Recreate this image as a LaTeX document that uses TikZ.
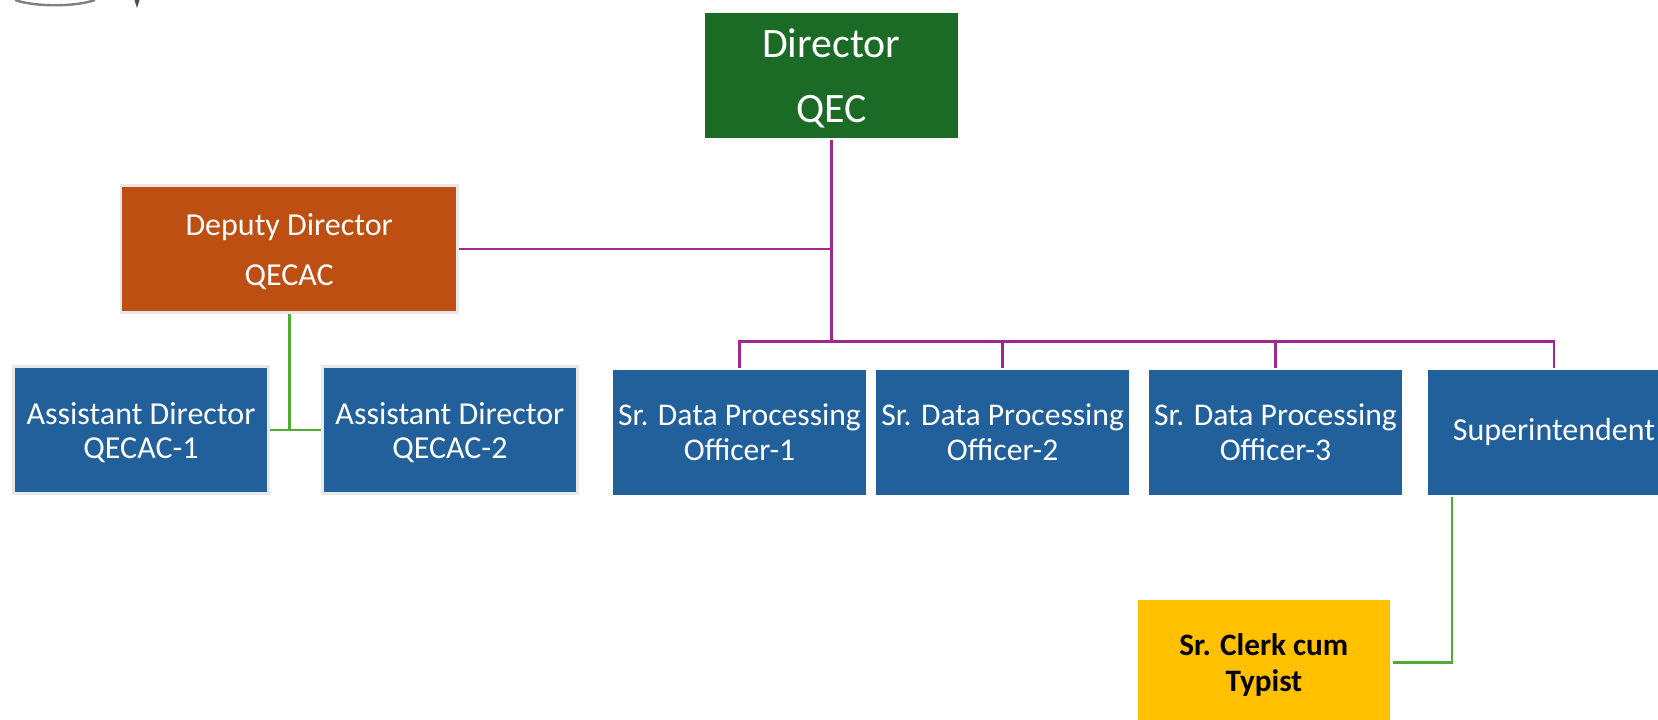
\documentclass[tikz,border=0pt]{standalone}
\usepackage{fontspec}
\setmainfont{Carlito}

\definecolor{dirgreen}{HTML}{1B6B26}
\definecolor{depred}{HTML}{BE4F13}
\definecolor{staffblue}{HTML}{22609B}
\definecolor{clerkyellow}{HTML}{FFC000}
\definecolor{linepurple}{HTML}{9C2A92}
\definecolor{linegreen}{HTML}{50AB32}
\definecolor{boxedge}{HTML}{E6E8EA}

\newcommand{\lowrule}[1]{\rule{0pt}{#1}}

\tikzset{
  orgbox/.style={draw=white, line width=1.9pt, inner sep=0pt, align=center, text=white,
    minimum width=191.3pt, minimum height=95.3pt,
    font=\fontsize{23.7}{25.7}\selectfont},
  edgebox/.style={orgbox, draw=boxedge, font=\fontsize{24}{25.7}\selectfont},
  reportline/.style={linepurple, line width=2.2pt},
  staffline/.style={linegreen, line width=2.2pt},
  logoedge/.style={black!50, line width=1.8pt}
}

\begin{document}
\begin{tikzpicture}[x=0.75pt, y=-0.75pt]
\useasboundingbox (0,0) rectangle (1658,719);
\clip (0,0) rectangle (1658,719);

% cut off logo at the top
\draw[logoedge] (15,0) .. controls (35,7) and (75,7) .. (95,0);
\fill[black!70] (134.5,0) -- (139.5,0) -- (137,8) -- cycle;

\node[orgbox, fill=dirgreen, font=\fontsize{31.4}{48.75}\selectfont] (director) at (831.3,75.5) {\lowrule{25.3pt}Director\\QEC};
\node[edgebox, fill=depred, minimum width=252.2pt, font=\fontsize{24}{37.5}\selectfont] (deputy) at (289.2,249) {\lowrule{20.5pt}Deputy Director\\QECAC};

\node[edgebox, fill=staffblue] (asst1) at (141,430) {\lowrule{20.5pt}Assistant Director\\QECAC-1};
\node[edgebox, fill=staffblue] (asst2) at (449.9,430) {\lowrule{20.5pt}Assistant Director\\QECAC-2};

\node[orgbox, fill=staffblue] (sro1) at (739.5,432.3) {Sr. Data Processing\\Officer-1};
\node[orgbox, fill=staffblue] (sro2) at (1002.6,432.3) {Sr. Data Processing\\Officer-2};
\node[orgbox, fill=staffblue] (sro3) at (1275.4,432.3) {Sr. Data Processing\\Officer-3};
\node[orgbox, fill=staffblue, font=\fontsize{24}{25.7}\selectfont] (super) at (1554,432.3) {Superintendent};

\node[orgbox, fill=clerkyellow, text=black, font=\fontsize{23.4}{27}\selectfont\bfseries] (clerk) at (1263.9,662.7) {\lowrule{20pt}Sr. Clerk cum\\Typist};

\coordinate (hub) at (831.3,249);
\coordinate (bus) at (831.3,341.7);
\coordinate (join) at (289.2,430);
\coordinate (bend) at (1452,662.7);

\draw[reportline] (director.south) -- (bus);
\draw[reportline] (deputy.east) -- (hub);
\draw[reportline, line join=miter] (sro1.north) |- (bus);
\draw[reportline, line join=miter] (super.north) |- (bus);
\draw[reportline] (sro2.north) -- (sro2.north |- bus);
\draw[reportline] (sro3.north) -- (sro3.north |- bus);

\draw[staffline] (deputy.south) -- (join);
\draw[staffline] (asst1.east) -- (asst2.west);
\draw[staffline, line join=miter] (super.south -| bend) -- (bend) -- (clerk.east);
\end{tikzpicture}
\end{document}
